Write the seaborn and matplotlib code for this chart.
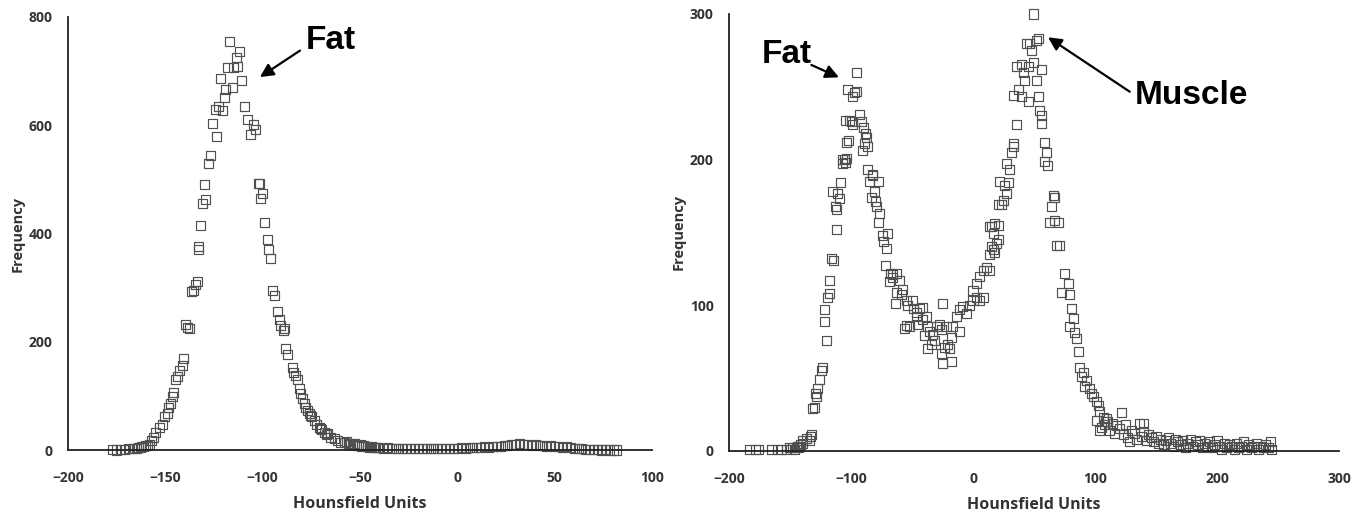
import matplotlib
matplotlib.use("Agg")
import matplotlib.pyplot as plt
import seaborn as sns
import pandas as pd

# ---------------- data: left panel (fat only) ----------------
left_hu = [
    -177, -175, -173, -171, -169, -167, -166, -165, -164, -163, -162, -161, -160, -159,
    -158.1, -156.9, -156.0, -155.2, -152.9, -151.7, -150.3, -149.1, -148.3, -147.4,
    -146.5, -145.7, -144.8, -143.9, -142.6, -141.3, -140.5, -139.4, -138.8, -137.5,
    -136.7, -135.7, -134.5, -133.7, -133.1, -132.8, -132.0, -131.1, -129.4, -129.9,
    -127.7, -126.8, -126.0, -124.2, -123.7, -122.5, -120.8, -121.6, -119.6, -119.0,
    -117.9, -116.9, -115.6, -114.8, -113.4, -112.7, -111.7, -111.0, -109.3, -107.9,
    -106.5, -104.5, -103.6, -101.9, -101.4, -100.2, -101.0, -99.0, -97.6, -96.8,
    -95.9, -95.0, -93.8, -92.4, -91.6, -90.7, -89.3, -88.9, -88.1, -87.3, -84.7,
    -84.2, -83.0, -82.0, -81.3, -80.4, -79.5, -78.7, -77.8, -77.0, -76.1, -74.9,
    -75.5, -73.6, -72.2, -71.0, -70.3, -69.7, -68.4, -67.2, -66.6, -64.9, -63.2,
    -61.5, -59.8, -58, -57, -56, -55, -54, -53, -52, -51, -50, -49, -48, -47, -46,
    -45, -44, -43, -42, -41, -40, -38, -36, -34, -32, -30, -28, -26, -24, -22, -20,
    -18, -16, -14, -12, -10, -8, -6, -4, -2, 0, 2, 4, 6, 8, 10, 12, 14, 16, 18, 20,
    22, 24, 26, 28, 30, 32, 34, 36, 38, 40, 42, 44, 46, 48, 50, 52, 54, 56, 58, 60,
    62, 64, 66, 68, 70, 72, 74, 76, 78, 80, 82,
]
left_freq = [
    1, 0, 1, 1, 2, 2, 3, 3, 4, 5, 6, 6, 8, 9,
    11, 18, 24, 33, 42, 48, 61, 68, 79, 86,
    98, 107, 130, 135, 147, 156, 169, 232, 227, 224,
    292, 295, 306, 311, 371, 376, 414, 456, 462, 490,
    529, 545, 603, 630, 580, 634, 627, 686, 652, 666,
    706, 755, 669, 706, 726, 709, 737, 682, 634, 610,
    582, 601, 592, 492, 493, 474, 465, 420, 389, 371,
    354, 294, 286, 255, 241, 230, 221, 225, 187, 177, 153,
    144, 138, 130, 113, 104, 95, 86, 79, 73, 67, 61,
    63, 55, 48, 42, 40, 37, 33, 28, 30, 24, 21,
    18, 14, 13, 15, 12, 11, 10, 12, 9, 8, 10, 7, 8, 6, 7,
    5, 6, 4, 5, 5, 4, 3, 4, 3, 2, 3, 2, 2, 3, 2, 2,
    3, 2, 3, 2, 3, 2, 3, 3, 2, 3, 4, 3, 4, 5, 4, 5, 6, 5, 6, 7,
    6, 8, 9, 10, 11, 12, 10, 11, 9, 10, 8, 9, 7, 8, 6, 7, 5, 6, 4, 3,
    3, 2, 1, 1, 1, 1, 0, 1, 0, 0, 0,
]

# ---------------- data: right panel (fat + muscle) ----------------
right_hu = [
    -183, -178, -176, -165, -160, -157, -153, -150, -148, -146, -145, -144, -143,
    -142, -141, -140, -139.4, -136.6, -134.0, -132.5, -133.0, -131.2, -129.9,
    -129.1, -128.5, -127.2, -125.8, -124.4, -123.1, -121.7, -121.7, -120.3, -118.9,
    -117.6, -117.6, -116.2, -114.3, -114.8, -112.6, -112.1, -111.6, -110.7, -109.3,
    -108.8, -107.1, -106.6, -105.2, -104.4, -104.4, -103.4, -103.4, -102.6, -101.7,
    -101.1, -99.8, -98.4, -98.4, -97.1, -95.7, -95.7,
    -92.9, -91.5, -90.2, -89.6, -88.8, -88.0, -86.9, -86.1, -86.1, -84.7, -83.3,
    -82.5, -82.0, -80.6, -79.8, -78.7, -77.1, -77.1, -76.5, -74.3, -73.2, -71.6,
    -71.0, -69.7, -68.3, -67.8, -66.2, -65.6, -63.4, -62.9, -62.9, -60.1, -58.7,
    -57.4, -56.0, -54.6, -54.6, -53.3, -51.9, -49.2, -48.6, -46.4, -46.4, -45.1,
    -43.7, -41.0, -41.0, -39.6, -38.3, -36.9, -36.9, -35.5, -34.1, -32.8, -31.4,
    -30.0, -27.3, -25.9, -25.9, -24.6, -24.6, -23.2, -21.9, -20.5, -19.1, -17.7,
    -17.7, -16.4, -13.6, -10.9, -10.9, -8.2, -5.5, -2.7, 0.0, 0.0, 2.7, 2.7, 5.5,
    5.5, 8.2, 8.2, 10.9, 13.7, 13.7, 13.7, 15.1, 15.1, 16.4, 16.4, 17.8, 17.8, 19.1,
    20.5, 20.5, 20.5, 21.9, 23.3, 24.6, 26.0, 27.4, 27.4, 28.7, 30.1, 31.5, 32.8,
    32.8, 32.8, 35.6, 35.6, 36.9, 39.6, 39.6, 41.0, 42.4, 43.8, 45.1, 45.1, 46.5,
    47.9, 49.2, 49.2, 52.0, 52.0, 53.3, 53.3, 54.7, 56.1, 56.1, 56.1, 58.8, 58.8,
    60.2, 60.7, 62.9, 64.3, 65.6, 67.0, 67.0, 68.4, 69.7, 71.1, 72.5, 75.2, 77.9,
    78.7, 79.3, 80.6, 82.0, 83.4, 84.8, 86.1, 87.5, 88.9, 90.2, 91.6, 93.0, 95.7,
    97.1, 98.4, 101.2, 102.5, 103.9, 106.6, 109.3,
    101, 104, 105, 108, 109.4, 110, 112, 114, 116, 118, 120, 121.7, 123, 125, 127,
    128.5, 130, 132, 134, 136.7, 138, 139.5, 140, 142, 144, 146, 148, 150, 152, 154,
    156, 158, 160, 162, 164, 166, 168, 170, 172, 174, 176, 178, 180, 182, 184, 186,
    188, 190, 192, 194, 196, 198, 200, 202, 204, 206, 208, 210, 212, 214, 216, 218,
    220, 222, 224, 226, 228, 230, 232, 234, 236, 238, 240, 242, 244, 245,
]
right_freq = [
    1, 1, 1, 1, 1, 1, 1, 2, 2, 1, 2, 3, 2,
    3, 4, 5, 7, 8.5, 7, 11, 10, 29, 30,
    39, 37, 43, 49, 55, 57, 89, 97, 76, 105,
    108, 117, 132, 131, 178, 168, 152, 166, 177, 173,
    184, 200, 197, 200, 198, 227, 212, 201, 248, 213,
    227, 226, 224, 243, 246, 247, 260,
    231, 226, 206, 222, 211, 218, 215, 209, 193, 185, 174,
    190, 189, 178, 171, 168, 185, 157, 163, 148, 144, 127,
    139, 149, 116, 122, 119, 121, 101, 122, 109, 117, 107,
    111, 84, 103, 86, 100, 85, 103, 98, 95, 92, 87,
    98, 98.5, 90, 79, 92, 85, 70, 82, 73, 80, 76,
    85, 87, 83, 67, 101, 60, 71, 85, 73, 70, 78,
    61, 85, 92, 97, 82, 99, 94, 100, 103, 110, 105, 115, 103,
    120, 105, 124, 126, 135, 124, 154, 154, 140, 138, 149, 156, 136, 142,
    169, 155, 145, 185, 169, 172, 182, 177, 197, 184, 193, 205, 211,
    209, 244, 224, 264, 248, 243, 265, 260, 254, 280, 240, 264, 280,
    275, 267, 300, 254, 282, 283, 243, 234, 262, 230, 225, 212, 199,
    205, 196, 157, 168, 175, 174, 158, 141, 157, 141, 109, 122, 115,
    85, 107, 98, 91, 81, 77, 68, 57, 51, 54, 44, 48, 43,
    39, 37, 34, 31, 27, 23, 22,
    21, 14, 16, 18, 20, 20, 14, 19, 12, 17, 15, 26, 11, 18, 9,
    6, 14, 12, 8, 19, 10, 19, 13, 7, 11, 9, 6, 10, 5, 8,
    4, 7, 9, 5, 3, 8, 6, 4, 7, 2, 5, 8, 3, 6, 4, 7,
    2, 5, 3, 6, 2, 4, 7, 3, 1, 5, 2, 4, 3, 1, 5, 2,
    3, 6, 1, 4, 2, 3, 5, 1, 3, 2, 4, 2, 6, 1,
]

left_xticks = [-200, -150, -100, -50, 0, 50, 100]
left_yticks = [0, 200, 400, 600, 800]
right_xticks = [-200, -100, 0, 100, 200, 300]
right_yticks = [0, 100, 200, 300]

df_left = pd.DataFrame({"hu": left_hu, "freq": left_freq})
df_right = pd.DataFrame({"hu": right_hu, "freq": right_freq})

sns.set_style("white")
plt.rcParams["font.family"] = ["Open Sans", "DejaVu Sans"]

W, H = 1364, 516
fig = plt.figure(figsize=(W / 100, H / 100), dpi=100)
ax1 = fig.add_axes([68 / W, 1 - 450 / H, 584 / W, 433 / H])
ax2 = fig.add_axes([729 / W, 1 - 450.7 / H, 610 / W, 436.7 / H])

txt_col = "#333333"
mk = dict(marker="s", s=42, fc="none", ec="#505050", linewidth=0.85, legend=False)

sns.scatterplot(data=df_left, x="hu", y="freq", ax=ax1, **mk)
sns.scatterplot(data=df_right, x="hu", y="freq", ax=ax2, **mk)

for ax, xt, yt, ylim in [
    (ax1, left_xticks, left_yticks, (0, 800)),
    (ax2, right_xticks, right_yticks, (0, 300)),
]:
    ax.set_xlim(xt[0], xt[-1])
    ax.set_ylim(*ylim)
    ax.set_xticks(xt)
    ax.set_yticks(yt)
    for s in ["top", "right"]:
        ax.spines[s].set_visible(False)
    for s in ["left", "bottom"]:
        ax.spines[s].set_color("#222222")
        ax.spines[s].set_linewidth(1.3)
    ax.tick_params(axis="both", direction="inout", length=6, width=1.2,
                   color="#222222", labelsize=10, labelcolor=txt_col)
    ax.tick_params(axis="x", pad=12)
    ax.tick_params(axis="y", pad=8)
    for lab in ax.get_xticklabels() + ax.get_yticklabels():
        lab.set_fontweight("bold")
    ax.set_xlabel("Hounsfield Units", fontsize=11.5, fontweight="bold",
                  color=txt_col, labelpad=8)
    ax.set_ylabel("Frequency", fontsize=10.5, fontweight="bold",
                  color=txt_col, labelpad=3)
    ax.set_facecolor("white")
    for c in ax.collections:
        c.set_clip_on(False)

ann_font = dict(fontsize=24, fontweight="bold", color="black",
                family=["Liberation Sans", "DejaVu Sans"], va="baseline")
arrow = dict(arrowstyle="-|>", lw=1.6, color="black", mutation_scale=20,
             shrinkA=0, shrinkB=0)

ax1.text(-77.8, 741, "Fat", **ann_font)
ax1.annotate("", xy=(-101.4, 689), xytext=(-80.8, 738), arrowprops=arrow)

ax2.text(-173.5, 266.5, "Fat", **ann_font)
ax2.annotate("", xy=(-109.9, 256.5), xytext=(-132.5, 265), arrowprops=arrow)

ax2.text(132.6, 238, "Muscle", **ann_font)
ax2.annotate("", xy=(61.5, 284), xytext=(128.5, 246.6), arrowprops=arrow)

fig.savefig("out.png", dpi=100, facecolor="white")
